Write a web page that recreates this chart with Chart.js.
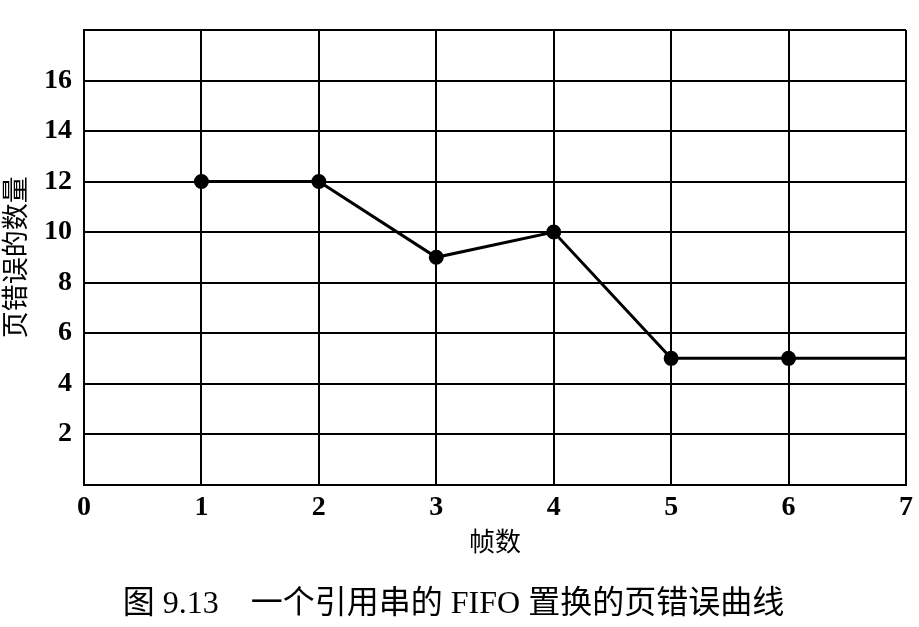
<!DOCTYPE html>
<html>
<head>
<meta charset="utf-8">
<script src="https://cdn.jsdelivr.net/npm/chart.js@4"></script>
<style>
  html, body { margin: 0; padding: 0; background: #fff; }
  #wrap { width: 919px; height: 627px; }
</style>
</head>
<body>
<div id="wrap"><canvas id="fifo_chart" width="919" height="627"></canvas></div>
<script>
  // frames vs. page faults (FIFO)
  var frames = [1, 2, 3, 4, 5, 6, 7];
  var faults = [12, 12, 9, 10, 5, 5, 5];
  var dotSize = [6, 6, 6, 6, 6, 6, 0]; // last point is just the line running to the edge

  var serif = '"Liberation Serif", "Noto Sans CJK SC", serif';

  var points = frames.map(function(f, i){ return {x: f, y: faults[i]}; });

  var ctx = document.getElementById("fifo_chart").getContext("2d");
  new Chart(ctx, {
    type: 'line',
    data: {
      datasets: [{
        data: points,
        borderColor: '#000',
        backgroundColor: '#000',
        borderWidth: 3,
        pointRadius: dotSize,
        pointHoverRadius: dotSize,
        tension: 0
      }]
    },
    options: {
      responsive: false,
      animation: false,
      layout: { padding: { top: 30, right: 12, left: 0, bottom: 0 } },
      plugins: {
        legend: { display: false },
        tooltip: { enabled: false },
        title: {
          display: true,
          position: 'bottom',
          text: '图 9.13　一个引用串的 FIFO 置换的页错误曲线',
          color: '#000',
          font: { family: serif, size: 32, weight: 'normal' },
          padding: { top: 0, bottom: 3 }
        }
      },
      scales: {
        x: {
          type: 'linear',
          min: 0, max: 7,
          ticks: { stepSize: 1, color: '#000', padding: 6, font: { family: serif, size: 28, weight: 'bold' } },
          grid: { color: '#000', lineWidth: 2, drawTicks: false },
          border: { color: '#000', width: 2 },
          title: {
            display: true, text: '帧数', color: '#000',
            font: { family: serif, size: 26 },
            padding: { top: 0, bottom: 26 }
          },
          afterFit: function(s){ s.height = 101; }
        },
        y: {
          min: 0, max: 18,
          ticks: {
            stepSize: 2, color: '#000', padding: 12,
            font: { family: serif, size: 28, weight: 'bold' },
            callback: function(v){ return (v === 0 || v === 18) ? '' : v; }
          },
          grid: { color: '#000', lineWidth: 2, drawTicks: false },
          border: { color: '#000', width: 2 },
          title: {
            display: true, text: '页错误的数量', color: '#000',
            font: { family: serif, size: 27 },
            padding: { top: 2, bottom: 0 }
          },
          afterFit: function(s){ s.width = 84; }
        }
      }
    }
  });
</script>
</body>
</html>
